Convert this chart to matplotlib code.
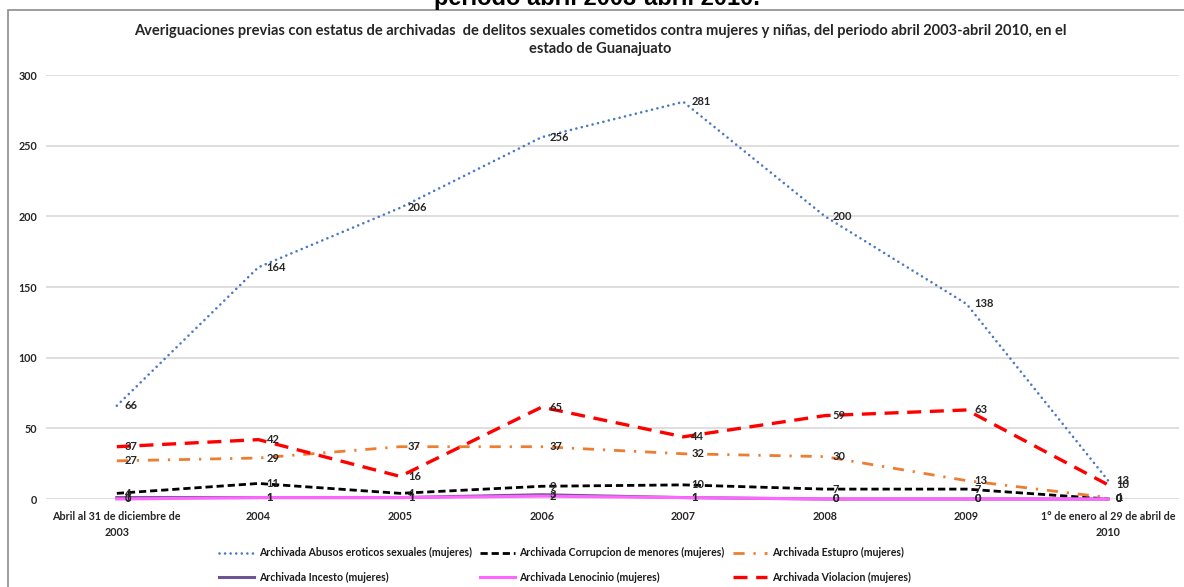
import matplotlib
matplotlib.use('Agg')
import matplotlib.pyplot as plt
from matplotlib.patches import Rectangle

# Data
categorias = ['Abril al 31 de diciembre de\n2003', '2004', '2005', '2006', '2007', '2008', '2009',
              '1° de enero al 29 de abril de\n2010']
abusos = [66, 164, 206, 256, 281, 200, 138, 13]
corrupcion = [4, 11, 4, 9, 10, 7, 7, 0]
estupro = [27, 29, 37, 37, 32, 30, 13, 1]
incesto = [1, 1, 1, 3, 1, 0, 0, 0]
lenocinio = [0, 1, 1, 2, 1, 0, 0, 0]
violacion = [37, 42, 16, 65, 44, 59, 63, 10]

series = [
    ('Archivada Abusos eroticos sexuales (mujeres)', abusos, '#4A78C2', (0, (0.01, 2.1)), 1.9, 'round'),
    ('Archivada Corrupcion de menores (mujeres)', corrupcion, '#000000', (0, (2.6, 1.4)), 2.0, 'butt'),
    ('Archivada Estupro (mujeres)', estupro, '#ED7D31', (0, (4, 3.2, 0.8, 3.2)), 2.0, 'butt'),
    ('Archivada Incesto (mujeres)', incesto, '#6E5494', '-', 2.2, 'butt'),
    ('Archivada Lenocinio (mujeres)', lenocinio, '#FF66FF', '-', 2.2, 'butt'),
    ('Archivada Violacion (mujeres)', violacion, '#FF0000', (0, (4.2, 2.6)), 2.4, 'butt'),
]

W, H = 1184, 587
fig = plt.figure(figsize=(W / 100, H / 100), dpi=100)
fig.patch.set_facecolor('white')

# chart frame (cropped on right and bottom)
fig.patches.append(Rectangle((8 / W, -0.1), 1.2, 1.1 - 10 / H, transform=fig.transFigure,
                             fill=False, edgecolor='#8c8c8c', lw=1.2))

# cropped heading from the page above the chart
fig.text(597 / W, 1 - 5 / H, 'periodo abril 2003-abril 2010.', ha='center', va='baseline',
         fontsize=17, fontweight='bold', family='Liberation Sans', color='black')

ax = fig.add_axes([46 / W, 1 - 499 / H, 1133 / W, 424 / H])
x = list(range(len(categorias)))

handles = []
for name, vals, color, ls, lw, cap in series:
    line, = ax.plot(x, vals, color=color, linestyle=ls, lw=lw, label=name,
                    dash_capstyle=cap, clip_on=False, zorder=3)
    handles.append(line)
    for xi, v in zip(x, vals):
        ax.annotate(str(v), (xi, v), xytext=(8, 0), textcoords='offset pixels',
                    ha='left', va='center', fontsize=8, fontweight='bold',
                    family='Lato', color='#262626', zorder=4)

ax.set_xlim(-0.5, 7.5)
ax.set_ylim(0, 300)
ax.set_yticks(range(0, 301, 50))
ax.set_xticks(x)
ax.set_xticklabels(categorias, linespacing=1.5)
for lab in ax.get_xticklabels() + ax.get_yticklabels():
    lab.set_family('Lato')
    lab.set_fontweight('bold')
    lab.set_fontsize(7.75)
    lab.set_color('#262626')
ax.tick_params(axis='both', length=0)
ax.tick_params(axis='y', pad=6.5)
ax.tick_params(axis='x', pad=9)
ax.grid(axis='y', color='#d9d9d9', lw=1.2)
ax.set_axisbelow(True)
for s in ax.spines.values():
    s.set_visible(False)

fig.text(600 / W, 1 - 40 / H,
         'Averiguaciones previas con estatus de archivadas  de delitos sexuales cometidos contra mujeres y niñas, del periodo abril 2003-abril 2010, en el\nestado de Guanajuato',
         ha='center', va='center', fontsize=10.5, fontweight='bold', family='Lato',
         color='#262626', linespacing=1.45)

# legend filled row by row
order = [0, 3, 1, 4, 2, 5]
leg = fig.legend([handles[i] for i in order], [series[i][0] for i in order],
                 ncol=3, loc='upper left', bbox_to_anchor=(214 / W, 1 - 542 / H),
                 frameon=False, borderpad=0, handlelength=3.3, handletextpad=0.45,
                 columnspacing=0.75, labelspacing=1.25,
                 prop={'family': 'Lato', 'weight': 'bold', 'size': 7.6})
for t in leg.get_texts():
    t.set_color('#1a1a1a')

fig.savefig('out.png', dpi=100)
